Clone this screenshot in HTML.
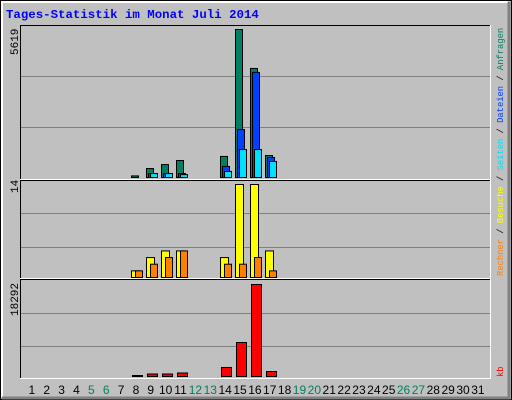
<!DOCTYPE html>
<html><head><meta charset="utf-8"><style>
html,body{margin:0;padding:0;background:#c0c0c0}
svg{display:block}
text{font-family:"Liberation Mono","DejaVu Sans Mono",monospace}
text.day{font-family:"Liberation Sans","DejaVu Sans",sans-serif}
</style></head><body>
<svg id="chart" width="512" height="400" viewBox="0 0 512 400">
<rect x="0" y="0" width="512" height="400" fill="#c0c0c0"/>
<rect x="0.5" y="0.5" width="511" height="399" fill="none" stroke="#000"/>
<path d="M2 397 V2 H508" fill="none" stroke="#fff" stroke-width="2"/>
<path d="M509 2 V398 H2" fill="none" stroke="#808080" stroke-width="3"/>
<text x="6" y="18" font-size="12.4" font-weight="bold" fill="#0000ff">Tages-Statistik im Monat Juli 2014</text>
<g id="panels"></g>
<g id="bars"></g>
<g id="labels"></g>
<text transform="translate(18,55) rotate(-90)" font-size="11" fill="#000">5619</text>
<text transform="translate(18,193) rotate(-90)" font-size="11" fill="#000">14</text>
<text transform="translate(18,316) rotate(-90)" font-size="11" fill="#000">18292</text>
<text transform="translate(503,276) rotate(-90)" font-size="8.8"><tspan fill="#ff8000">Rechner</tspan><tspan fill="#000"> / </tspan><tspan fill="#ffff00">Besuche</tspan><tspan fill="#000"> / </tspan><tspan fill="#00e0ff">Seiten</tspan><tspan fill="#000"> / </tspan><tspan fill="#0040ff">Dateien</tspan><tspan fill="#000"> / </tspan><tspan fill="#008060">Anfragen</tspan></text>
<text transform="translate(503,377) rotate(-90)" font-size="8.8" fill="#ff0000">kb</text>
</svg>
<script>
const days = [1,2,3,4,5,6,7,8,9,10,11,12,13,14,15,16,17,18,19,20,21,22,23,24,25,26,27,28,29,30,31];
const weekendDays = [5,6,12,13,19,20,26,27];
const hits =   [0,0,0,0,0,0,0,60,340,490,645,0,0,800,5619,4140,835,0,0,0,0,0,0,0,0,0,0,0,0,0,0];
const files =  [0,0,0,0,0,0,0,0,150,150,150,0,0,420,1820,3990,760,0,0,0,0,0,0,0,0,0,0,0,0,0,0];
const pages =  [0,0,0,0,0,0,0,0,150,150,110,0,0,230,1060,1060,610,0,0,0,0,0,0,0,0,0,0,0,0,0,0];
const visits = [0,0,0,0,0,0,0,1,3,4,4,0,0,3,14,14,4,0,0,0,0,0,0,0,0,0,0,0,0,0,0];
const sites =  [0,0,0,0,0,0,0,1,2,3,4,0,0,2,2,3,1,0,0,0,0,0,0,0,0,0,0,0,0,0,0];
const kb =     [0,0,0,0,0,0,0,150,500,500,700,0,0,1790,6760,18292,990,0,0,0,0,0,0,0,0,0,0,0,0,0,0];
const maxHits = 5619, maxVisits = 14, maxKb = 18292;

const NS = 'http://www.w3.org/2000/svg';
function mk(tag, attrs, parent){const e=document.createElementNS(NS,tag);for(const k in attrs)e.setAttribute(k,attrs[k]);parent.appendChild(e);return e;}
const panelsG=document.getElementById('panels'), barsG=document.getElementById('bars'), labelsG=document.getElementById('labels');
const X0=20, X1=490;
const panels=[{top:25,bottom:179,base:177,h:148,grid:[76,127]},{top:180,bottom:278,base:277,h:93,grid:[213,247]},{top:279,bottom:378,base:376,h:92,grid:[313,346]}];
const pnames=['hits-panel','visits-panel','kb-panel'];
panels.forEach((p,i)=>{
  const g=mk('g',{},panelsG);
  
  
  p.grid.forEach(y=>{const l=mk('line',{x1:X0,x2:X1,y1:y+0.5,y2:y+0.5,stroke:'#808080'},g);
    
    });
  mk('path',{d:`M${X0+0.5} ${p.bottom} V${p.top+0.5} H${X1}`,fill:'none',stroke:'#000'},g);
  mk('path',{d:`M${X1+0.5} ${p.top} V${p.bottom+0.5} H${X0}`,fill:'none',stroke:'#fff'},g);
});
function dx(d){return 235+(d-15)*14.87;}
function bar(x,w,v,max,p,color,name){
  if(v<=0) return;
  const h=Math.max(1,v/max*p.h);
  const r=mk('rect',{x:Math.round(x)+0.5,y:p.base-h+0.5,width:w,height:h,fill:color,stroke:'#000'},barsG);
  
  
}
days.forEach((d,i)=>{
  const x=dx(d);
  bar(x,7,hits[i],maxHits,panels[0],'#008060','bar-hits-'+d);
  bar(x+2,7,files[i],maxHits,panels[0],'#0040ff','bar-files-'+d);
  bar(x+4,7,pages[i],maxHits,panels[0],'#00e0ff','bar-pages-'+d);
  bar(x,8,visits[i],maxVisits,panels[1],'#ffff00','bar-visits-'+d);
  bar(x+4,7,sites[i],maxVisits,panels[1],'#ff8000','bar-sites-'+d);
  bar(x+1,10,kb[i],maxKb,panels[2],'#ff0000','bar-kb-'+d);
  const t=mk('text',{x:x+5,y:394,'text-anchor':'middle','font-size':'12','class':'day',fill:weekendDays.includes(d)?'#008060':'#000'},labelsG);
  t.textContent=d;
  
  
});
</script>
</body></html>
